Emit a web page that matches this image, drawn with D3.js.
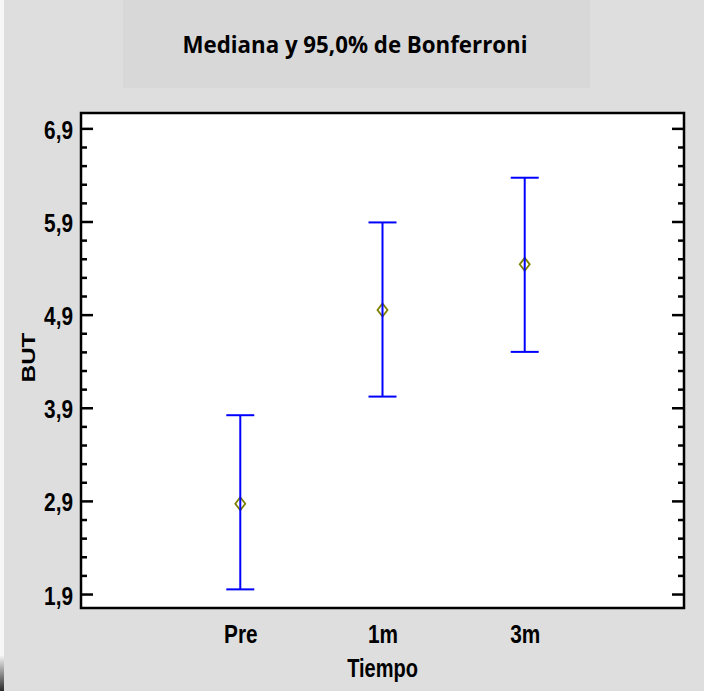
<!DOCTYPE html>
<html>
<head>
<meta charset="utf-8">
<script src="https://cdn.jsdelivr.net/npm/d3@7"></script>
<style>
  body { margin: 0; background: #dedede; }
  svg { display: block; }
  .tick-label, .axis-title { font-family: "Liberation Sans", Arial, sans-serif; font-weight: bold; fill: #000; }
  .chart-title { font-family: "Open Sans", "Noto Sans", sans-serif; font-weight: bold; fill: #000; }
</style>
</head>
<body>
<svg id="chart"></svg>
<script>
// data
const categories = ["Pre", "1m", "3m"];
const medians = [2.87, 4.95, 5.44];
const lowerBounds = [1.95, 4.02, 4.50];
const upperBounds = [3.82, 5.89, 6.37];
const yMajorTicks = [1.9, 2.9, 3.9, 4.9, 5.9, 6.9];
const yTickLabels = ["1,9", "2,9", "3,9", "4,9", "5,9", "6,9"];

const TITLE_LABEL = "Mediana y 95,0% de Bonferroni";
const X_LABEL = "Tiempo";
const Y_LABEL = "BUT";

const width = 704,
      height = 691,
      plot = {left: 81, top: 113, right: 684, bottom: 608},
      squeeze = 0.8; // text in the reference is narrowed horizontally

const svg = d3.select("#chart")
    .attr("width", width)
    .attr("height", height);

// Background
// ----------------------------------------
svg.append("rect")
    .attr("width", width).attr("height", height)
    .attr("fill", "#dedede");

// left edge strip and little dark corner
const grad = svg.append("defs").append("linearGradient")
    .attr("id", "cornerGrad")
    .attr("x1", 0).attr("y1", 0).attr("x2", 0).attr("y2", 1);
grad.append("stop").attr("offset", "0%").attr("stop-color", "#f2f2f2");
grad.append("stop").attr("offset", "100%").attr("stop-color", "#2a2a2a");
svg.append("rect")
    .attr("x", 0).attr("y", 0).attr("width", 4).attr("height", 656)
    .attr("fill", "#f7f7f7");
svg.append("rect")
    .attr("x", 0).attr("y", 656).attr("width", 4).attr("height", height - 656)
    .attr("fill", "url(#cornerGrad)");

// title box
svg.append("rect")
    .attr("x", 123).attr("y", 0)
    .attr("width", 467).attr("height", 88)
    .attr("fill", "#d8d8d8");
svg.append("text")
    .attr("class", "chart-title")
    .attr("x", 355)
    .attr("y", 53)
    .attr("text-anchor", "middle")
    .attr("font-size", 23.5)
    .attr("textLength", 345)
    .attr("lengthAdjust", "spacingAndGlyphs")
    .text(TITLE_LABEL);

// Scales
// ----------------------------------------
const x = d3.scalePoint()
    .domain(categories)
    .range([plot.left, plot.right])
    .padding(1.12);

const y = d3.scaleLinear()
    .domain([1.75, 7.065])
    .range([plot.bottom, plot.top]);

const minorTicks = d3.range(1.9, 7.0, 0.2)
    .map(v => +v.toFixed(1))
    .filter(v => !yMajorTicks.some(m => Math.abs(m - v) < 1e-6));

// Plot area
// ----------------------------------------
svg.append("rect")
    .attr("x", plot.left).attr("y", plot.top)
    .attr("width", plot.right - plot.left)
    .attr("height", plot.bottom - plot.top)
    .attr("fill", "#fff");

// Axes (ticks pointing inward on both sides)
// ----------------------------------------
function styleAxis(g) {
    g.select(".domain").remove();
    g.selectAll(".tick line")
        .attr("stroke", "#000")
        .attr("stroke-width", 2.5);
}

svg.append("g")
    .attr("transform", `translate(${plot.left},0)`)
    .call(d3.axisLeft(y).tickValues(minorTicks).tickSize(-6).tickFormat(""))
    .call(styleAxis);
svg.append("g")
    .attr("transform", `translate(${plot.right},0)`)
    .call(d3.axisRight(y).tickValues(minorTicks).tickSize(-6).tickFormat(""))
    .call(styleAxis);
svg.append("g")
    .attr("transform", `translate(${plot.right},0)`)
    .call(d3.axisRight(y).tickValues(yMajorTicks).tickSize(-12).tickFormat(""))
    .call(styleAxis);

const leftAxis = svg.append("g")
    .attr("transform", `translate(${plot.left},0)`)
    .call(d3.axisLeft(y)
        .tickValues(yMajorTicks)
        .tickSize(-12)
        .tickFormat((d, i) => yTickLabels[i]))
    .call(styleAxis);
leftAxis.selectAll(".tick text")
    .attr("class", "tick-label")
    .attr("font-size", 26)
    .attr("x", -8 / squeeze)
    .attr("dy", 10)
    .attr("transform", `scale(${squeeze},1)`);

const bottomAxis = svg.append("g")
    .attr("transform", `translate(0,${plot.bottom})`)
    .call(d3.axisBottom(x).tickSize(0).tickPadding(0));
bottomAxis.select(".domain").remove();
bottomAxis.selectAll(".tick text")
    .attr("class", "tick-label")
    .attr("font-size", 26)
    .attr("y", 35)
    .attr("dy", 0)
    .attr("transform", `scale(${squeeze},1)`);

// frame on top of the ticks
svg.append("rect")
    .attr("x", plot.left).attr("y", plot.top)
    .attr("width", plot.right - plot.left)
    .attr("height", plot.bottom - plot.top)
    .attr("fill", "none")
    .attr("stroke", "#000")
    .attr("stroke-width", 2.5);

// axis titles
svg.append("text")
    .attr("class", "axis-title")
    .attr("font-size", 25)
    .attr("text-anchor", "middle")
    .attr("transform", `translate(${(plot.left + plot.right) / 2},677) scale(${squeeze},1)`)
    .text(X_LABEL);
svg.append("text")
    .attr("class", "axis-title")
    .attr("font-size", 24)
    .attr("text-anchor", "middle")
    .attr("transform", `translate(35,${(plot.top + plot.bottom) / 2 - 3}) scale(${squeeze},1) rotate(-90)`)
    .text(Y_LABEL);

// Error bars and medians
// ----------------------------------------
const rows = categories.map((c, i) => ({
    cat: c, median: medians[i], lo: lowerBounds[i], hi: upperBounds[i]
}));
const capHalf = 14;

const bars = svg.append("g")
    .selectAll("g")
    .data(rows)
    .join("g");

bars.append("path")
    .attr("d", d => {
        const cx = x(d.cat);
        return `M${cx - 5},${y(d.median)} L${cx},${y(d.median) - 6.5} ` +
               `L${cx + 5},${y(d.median)} L${cx},${y(d.median) + 6.5} Z`;
    })
    .attr("fill", "none")
    .attr("stroke", "#808000")
    .attr("stroke-width", 1.8);

bars.append("line")
    .attr("x1", d => x(d.cat)).attr("x2", d => x(d.cat))
    .attr("y1", d => y(d.lo)).attr("y2", d => y(d.hi))
    .attr("stroke", "#0000ff")
    .attr("stroke-width", 2);

bars.selectAll(".cap")
    .data(d => [d.lo, d.hi].map(v => ({cat: d.cat, v})))
    .join("line")
    .attr("class", "cap")
    .attr("x1", d => x(d.cat) - capHalf).attr("x2", d => x(d.cat) + capHalf)
    .attr("y1", d => y(d.v)).attr("y2", d => y(d.v))
    .attr("stroke", "#0000ff")
    .attr("stroke-width", 2);
</script>
</body>
</html>
